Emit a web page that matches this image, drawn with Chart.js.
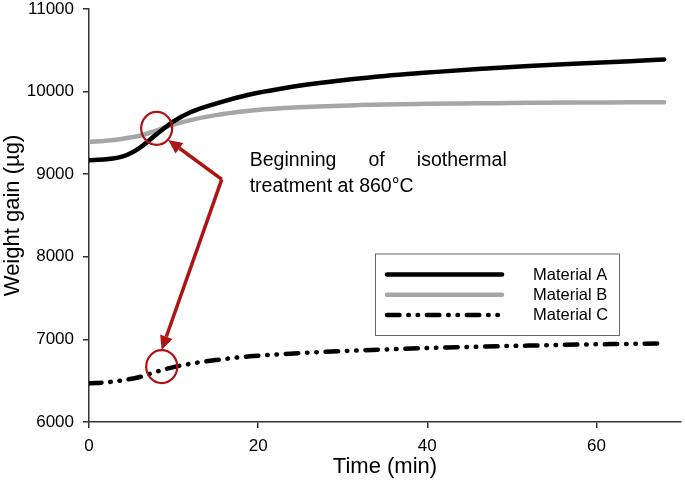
<!DOCTYPE html>
<html>
<head>
<meta charset="utf-8">
<script src="https://cdn.jsdelivr.net/npm/chart.js@4/dist/chart.umd.min.js"></script>
<style>
  html, body { margin: 0; padding: 0; background: #fff; }
  #wrap { width: 685px; height: 489px; position: relative; }
</style>
</head>
<body>
<div id="wrap"><canvas id="grafico"></canvas></div>
<script>
// ------------------------
// Dados
// ------------------------

const tempos = [0, 2, 4, 6, 8, 10, 12, 15, 19, 23, 27, 31, 35, 40, 46, 52, 58, 64, 68];

const materialA = [9170, 9180, 9215, 9320, 9485, 9640, 9750, 9855, 9965, 10040,
                   10100, 10150, 10190, 10230, 10275, 10310, 10340, 10368, 10390];
const materialB = [9390, 9405, 9430, 9465, 9530, 9600, 9655, 9715, 9767, 9800,
                   9820, 9833, 9845, 9852, 9858, 9864, 9868, 9870, 9872];
const materialC = [6468, 6480, 6505, 6545, 6610, 6665, 6705, 6750, 6795, 6822,
                   6845, 6862, 6878, 6895, 6912, 6925, 6938, 6946, 6952];

const nomes = ['Material A', 'Material B', 'Material C'];
const xTicks = [0, 20, 40, 60];
const yTicks = [6000, 7000, 8000, 9000, 10000, 11000];

// anotação: círculos e setas em coordenadas de dados
const circulos = [{ x: 8.0, y: 9555 }, { x: 8.6, y: 6670 }];
const vertice = { x: 15.7, y: 8938 };
const pontas = [{ x: 9.36, y: 9414 }, { x: 8.59, y: 6872 }];
const textoLinha1 = ['Beginning', 'of', 'isothermal'];
const textoLinha2 = 'treatment at 860°C';

// ------------------------
// Estilos
// ------------------------

const FONTE = '"Liberation Sans", Arial, sans-serif';
const VERMELHO = '#ad1414';
const CINZA = '#a6a6a6';
const TRACO_C = [12.5, 8.8, 0.5, 8.8, 0.5, 8.8];

function serie(valores) {
  return tempos.map((t, i) => ({ x: t, y: valores[i] }));
}

// ------------------------
// Plugin: anotações e legenda
// ------------------------

function seta(ctx, x0, y0, x1, y1) {
  const ang = Math.atan2(y1 - y0, x1 - x0);
  const comp = 14, larg = 6.5;
  const bx = x1 - comp * Math.cos(ang);
  const by = y1 - comp * Math.sin(ang);
  ctx.beginPath();
  ctx.moveTo(x0, y0);
  ctx.lineTo(bx, by);
  ctx.stroke();
  ctx.beginPath();
  ctx.moveTo(x1, y1);
  ctx.lineTo(bx + larg * Math.sin(ang), by - larg * Math.cos(ang));
  ctx.lineTo(bx - larg * Math.sin(ang), by + larg * Math.cos(ang));
  ctx.closePath();
  ctx.fill();
}

const anotacoes = {
  id: 'anotacoes',
  afterDatasetsDraw(chart) {
    const { ctx, scales: { x, y } } = chart;
    ctx.save();

    // círculos
    ctx.strokeStyle = VERMELHO;
    ctx.lineWidth = 2.2;
    circulos.forEach(c => {
      ctx.beginPath();
      ctx.ellipse(x.getPixelForValue(c.x), y.getPixelForValue(c.y), 15.5, 16.5, 0, 0, Math.PI * 2);
      ctx.stroke();
    });

    // setas
    ctx.fillStyle = VERMELHO;
    ctx.lineWidth = 3.5;
    const vx = x.getPixelForValue(vertice.x);
    const vy = y.getPixelForValue(vertice.y);
    pontas.forEach(p => {
      seta(ctx, vx, vy, x.getPixelForValue(p.x), y.getPixelForValue(p.y));
    });

    // texto justificado
    ctx.fillStyle = '#000';
    ctx.font = '19.5px ' + FONTE;
    ctx.textBaseline = 'alphabetic';
    ctx.textAlign = 'left';
    const esq = x.getPixelForValue(19.0);
    const dir = x.getPixelForValue(49.4);
    const larguras = textoLinha1.map(w => ctx.measureText(w).width);
    const total = larguras.reduce((a, b) => a + b, 0);
    const espaco = (dir - esq - total) / (textoLinha1.length - 1);
    let px = esq;
    const base1 = y.getPixelForValue(9095);
    textoLinha1.forEach((w, i) => {
      ctx.fillText(w, px, base1);
      px += larguras[i] + espaco;
    });
    ctx.fillText(textoLinha2, esq, base1 + 26);

    // legenda
    const lx = 375, ly = 253.5, lw = 244, lh = 81.5;
    ctx.strokeStyle = '#666';
    ctx.lineWidth = 1;
    ctx.strokeRect(lx + 0.5, ly + 0.5, lw, lh);
    ctx.font = '16.5px ' + FONTE;
    ctx.textBaseline = 'middle';
    chart.data.datasets.forEach((ds, i) => {
      const yy = ly + 21 + i * 20.2;
      ctx.beginPath();
      ctx.strokeStyle = ds.borderColor;
      ctx.lineWidth = ds.borderWidth;
      ctx.lineCap = 'round';
      ctx.setLineDash(ds.borderDash || []);
      ctx.moveTo(387, yy);
      ctx.lineTo(502, yy);
      ctx.stroke();
      ctx.setLineDash([]);
      ctx.fillStyle = '#000';
      ctx.fillText(ds.label, 533, yy + 1);
    });

    ctx.restore();
  }
};

// ------------------------
// Gráfico
// ------------------------

const ctx = document.getElementById('grafico').getContext('2d');
new Chart(ctx, {
  type: 'line',
  data: {
    datasets: [
      {
        label: nomes[0],
        data: serie(materialA),
        borderColor: '#000',
        borderWidth: 4.5,
        borderCapStyle: 'round'
      },
      {
        label: nomes[1],
        data: serie(materialB),
        borderColor: CINZA,
        borderWidth: 4.5,
        borderCapStyle: 'round'
      },
      {
        label: nomes[2],
        data: serie(materialC),
        borderColor: '#000',
        borderWidth: 4.5,
        borderDash: TRACO_C,
        borderCapStyle: 'round'
      }
    ]
  },
  options: {
    responsive: true,
    maintainAspectRatio: false,
    animation: false,
    devicePixelRatio: 1,
    layout: { padding: { top: 0, right: 4, left: 0, bottom: 0 } },
    elements: {
      point: { radius: 0 },
      line: { cubicInterpolationMode: 'monotone', fill: false }
    },
    plugins: {
      legend: { display: false },
      tooltip: { enabled: false }
    },
    scales: {
      x: {
        type: 'linear',
        min: 0,
        max: 70,
        afterFit: s => { s.height = 67; s.paddingLeft = 0; s.paddingRight = 0; },
        afterBuildTicks: s => { s.ticks = xTicks.map(v => ({ value: v })); },
        ticks: { color: '#000', font: { family: FONTE, size: 17 }, padding: 8, maxRotation: 0, callback: v => String(v) },
        grid: { drawOnChartArea: false, tickLength: 6, color: '#333', lineWidth: 1.5 },
        border: { color: '#333', width: 1.5 },
        title: {
          display: true,
          text: 'Time (min)',
          color: '#000',
          font: { family: FONTE, size: 22 },
          padding: { top: 0, bottom: 9 }
        }
      },
      y: {
        type: 'linear',
        min: 6000,
        max: 11000,
        afterFit: s => { s.width = 89; s.paddingTop = 9; s.paddingBottom = 0; },
        afterBuildTicks: s => { s.ticks = yTicks.map(v => ({ value: v })); },
        ticks: { color: '#000', font: { family: FONTE, size: 17 }, padding: 9, callback: v => String(v) },
        grid: { drawOnChartArea: false, tickLength: 6, color: '#333', lineWidth: 1.5 },
        border: { color: '#333', width: 1.5 },
        title: {
          display: true,
          text: 'Weight gain (µg)',
          color: '#000',
          font: { family: FONTE, size: 22 },
          padding: { top: 0, bottom: 0 }
        }
      }
    }
  },
  plugins: [anotacoes]
});
</script>
</body>
</html>
